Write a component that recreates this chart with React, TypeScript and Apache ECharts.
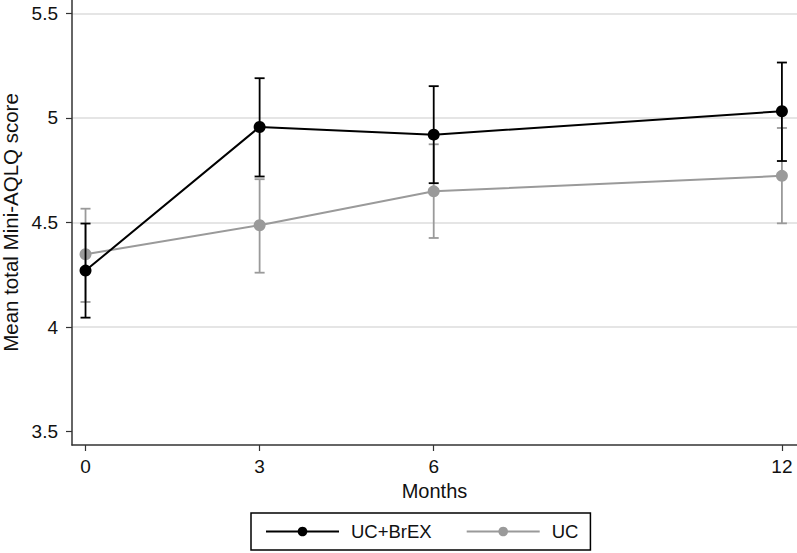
import React, { useEffect, useRef } from "react";
import * as echarts from "echarts";

const months = [0, 3, 6, 12];
const xTicks = [0, 3, 6, 12];
const yTicks = [3.5, 4, 4.5, 5, 5.5];
const gridValues = [4, 4.5, 5, 5.5];

const brexName = "UC+BrEX";
const brexMean = [4.27, 4.957, 4.92, 5.032];
const brexLow = [4.045, 4.72, 4.688, 4.794];
const brexHigh = [4.495, 5.19, 5.152, 5.265];

const ucName = "UC";
const ucMean = [4.348, 4.487, 4.649, 4.723];
const ucLow = [4.12, 4.26, 4.426, 4.496];
const ucHigh = [4.566, 4.707, 4.874, 4.952];

const FONT = "'Liberation Sans', Arial, Helvetica, sans-serif";
const BLACK = "#000000";
const GRAY = "#9a9a9a";

function errorSeries(name: string, low: number[], high: number[], color: string, z: number) {
  return {
    type: "custom",
    name: name + " CI",
    z,
    silent: true,
    data: months.map((m, i) => [m, low[i], high[i]]),
    encode: { x: 0, y: [1, 2] },
    renderItem: (params: any, api: any) => {
      const x = api.value(0);
      const lo = api.coord([x, api.value(1)]);
      const hi = api.coord([x, api.value(2)]);
      const cap = 5;
      const style = { stroke: color, lineWidth: 1.8 };
      return {
        type: "group",
        children: [
          { type: "line", shape: { x1: lo[0], y1: lo[1], x2: hi[0], y2: hi[1] }, style },
          { type: "line", shape: { x1: lo[0] - cap, y1: lo[1], x2: lo[0] + cap, y2: lo[1] }, style },
          { type: "line", shape: { x1: hi[0] - cap, y1: hi[1], x2: hi[0] + cap, y2: hi[1] }, style },
        ],
      };
    },
  };
}

export default function App() {
  const ref = useRef<HTMLDivElement>(null);
  useEffect(() => {
    document.body.style.margin = "0";
    const chart = echarts.init(ref.current!, null, { renderer: "svg" });
    const axisLine = { show: true, onZero: false, lineStyle: { color: "#333", width: 1.5 } };
    chart.setOption({
      animation: false,
      backgroundColor: "#ffffff",
      textStyle: { fontFamily: FONT },
      grid: { left: 72, top: 0, right: 0, bottom: 108, containLabel: false, outerBoundsMode: "none" },
      xAxis: {
        type: "value",
        min: -0.233,
        max: 12.26,
        name: "Months",
        nameLocation: "middle",
        nameGap: 36,
        nameTextStyle: { fontSize: 20, color: "#111", fontFamily: FONT },
        axisLine,
        axisTick: { show: true, length: 6, customValues: xTicks, lineStyle: { color: "#333", width: 1.2 } },
        axisLabel: { customValues: xTicks, fontSize: 19, color: "#111", margin: 12, fontFamily: FONT },
        splitLine: { show: false },
      },
      yAxis: {
        type: "value",
        min: 3.436,
        max: 5.564,
        name: "Mean total Mini-AQLQ score",
        nameLocation: "middle",
        nameRotate: 90,
        nameGap: 49,
        nameTextStyle: { fontSize: 20.5, color: "#111", fontFamily: FONT },
        axisLine,
        axisTick: { show: true, length: 6, customValues: yTicks, lineStyle: { color: "#333", width: 1.2 } },
        axisLabel: {
          customValues: yTicks,
          fontSize: 19,
          color: "#111",
          margin: 14,
          fontFamily: FONT,
          formatter: (v: number) => String(v),
        },
        splitLine: { show: false },
      },
      legend: {
        data: [brexName, ucName],
        left: 251,
        top: 513,
        orient: "horizontal",
        padding: [9, 12, 9, 14],
        borderColor: "#000",
        borderWidth: 1.5,
        itemWidth: 73,
        itemHeight: 12,
        itemGap: 34,
        textStyle: { fontSize: 18.5, color: "#111", fontFamily: FONT, padding: [0, 0, 0, 7] },
      },
      series: [
        errorSeries(ucName, ucLow, ucHigh, GRAY, 2),
        {
          type: "line",
          name: ucName,
          z: 3,
          data: months.map((m, i) => [m, ucMean[i]]),
          symbol: "circle",
          symbolSize: 12,
          itemStyle: { color: GRAY },
          lineStyle: { color: GRAY, width: 2 },
          markLine: {
            silent: true,
            symbol: "none",
            label: { show: false },
            lineStyle: { color: "#dcdcdc", width: 1.5, type: "solid" },
            z: 0,
            data: gridValues.map((v) => ({ yAxis: v })),
          },
        },
        errorSeries(brexName, brexLow, brexHigh, BLACK, 4),
        {
          type: "line",
          name: brexName,
          z: 5,
          data: months.map((m, i) => [m, brexMean[i]]),
          symbol: "circle",
          symbolSize: 12,
          itemStyle: { color: BLACK },
          lineStyle: { color: BLACK, width: 2 },
        },
      ],
    });
    return () => chart.dispose();
  }, []);
  return <div ref={ref} style={{ width: 797, height: 553 }} />;
}
